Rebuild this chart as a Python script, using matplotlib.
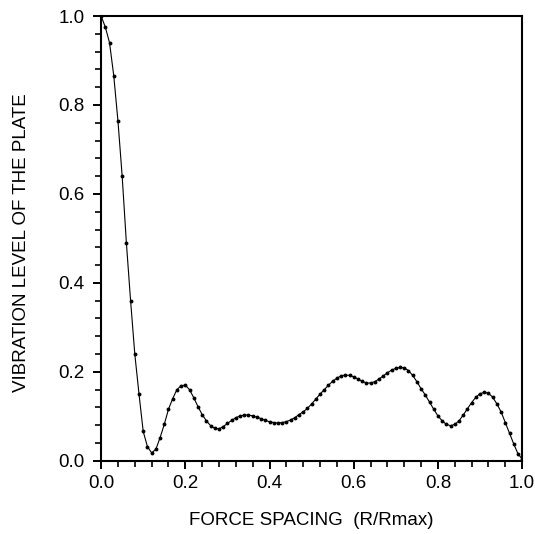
import numpy as np
import matplotlib.pyplot as plt
from matplotlib.ticker import MultipleLocator

# ----------------------------
# Data
# ----------------------------
spacing = np.round(np.arange(0, 101) * 0.01, 2)

vibration = [
    1.000, 0.975, 0.940, 0.866, 0.764, 0.640, 0.490, 0.360, 0.240, 0.150,
    0.066, 0.032, 0.018, 0.026, 0.052, 0.082, 0.116, 0.140, 0.160, 0.169,
    0.170, 0.160, 0.142, 0.122, 0.104, 0.090, 0.079, 0.073, 0.072, 0.077,
    0.084, 0.091, 0.097, 0.101, 0.103, 0.103, 0.101, 0.098, 0.095, 0.091,
    0.088, 0.086, 0.085, 0.086, 0.088, 0.092, 0.097, 0.104, 0.110, 0.118,
    0.128, 0.139, 0.150, 0.160, 0.170, 0.179, 0.186, 0.191, 0.193, 0.192,
    0.189, 0.184, 0.179, 0.175, 0.175, 0.178, 0.184, 0.191, 0.198, 0.204,
    0.208, 0.210, 0.209, 0.203, 0.192, 0.178, 0.162, 0.148, 0.132, 0.116,
    0.101, 0.090, 0.082, 0.079, 0.082, 0.090, 0.103, 0.117, 0.131, 0.143,
    0.151, 0.154, 0.152, 0.143, 0.128, 0.110, 0.086, 0.062, 0.038, 0.016,
    0.004,
]

tick_values = [0.0, 0.2, 0.4, 0.6, 0.8, 1.0]
tick_labels = ["0.0", "0.2", "0.4", "0.6", "0.8", "1.0"]


def main():
    plt.rcParams['font.family'] = ['Liberation Sans', 'DejaVu Sans']

    fig = plt.figure(figsize=(5.35, 5.34), dpi=100)
    ax = fig.add_axes([0.189, 0.137, 0.787, 0.833])

    ax.plot(spacing, vibration, color='black', linewidth=0.8,
            marker='o', markersize=2.8, markeredgewidth=0)

    ax.set_xlim(0, 1)
    ax.set_ylim(0, 1)

    ax.set_xticks(tick_values)
    ax.set_xticklabels(tick_labels)
    ax.set_yticks(tick_values)
    ax.set_yticklabels(tick_labels)
    ax.xaxis.set_minor_locator(MultipleLocator(0.04))
    ax.yaxis.set_minor_locator(MultipleLocator(0.04))

    ax.tick_params(which='major', direction='out', length=6, width=1.4,
                   labelsize=13.5, colors='black')
    ax.tick_params(which='minor', direction='out', length=4, width=1.2)
    ax.tick_params(axis='x', which='major', pad=4)
    ax.tick_params(axis='y', which='major', pad=6)

    for side in ax.spines.values():
        side.set_linewidth(1.5)

    ax.set_xlabel('FORCE SPACING  (R/Rmax)', fontsize=13.5)
    ax.set_ylabel('VIBRATION LEVEL OF THE PLATE', fontsize=13.5)
    ax.xaxis.set_label_coords(0.499, -0.114)
    ax.yaxis.set_label_coords(-0.168, 0.49)

    fig.savefig('out.png', dpi=100)


if __name__ == "__main__":
    main()
